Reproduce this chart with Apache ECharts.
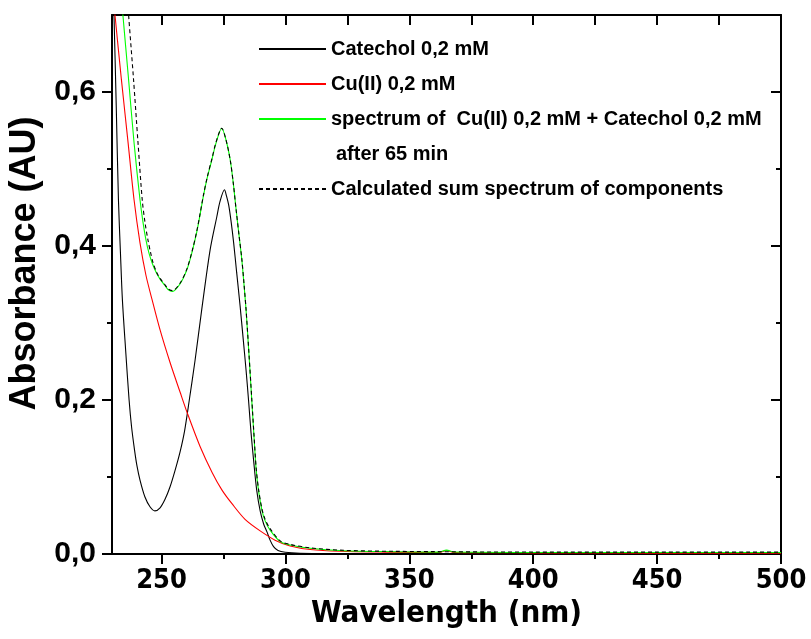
<!DOCTYPE html>
<html lang="en">
<head>
  <meta charset="UTF-8">
  <title>Catechol / Cu(II) absorbance spectra</title>
  <script src="https://cdn.jsdelivr.net/npm/echarts@6/dist/echarts.min.js"></script>
  <style>
    html, body { margin: 0; padding: 0; background: #fff; }
    #chart { width: 811px; height: 639px; }
  </style>
</head>
<body>
<div id="chart"></div>
<script>
// tick positions
const wavelengthTicks = [250, 300, 350, 400, 450, 500];
const wavelengthMinorTicks = [275, 325, 375, 425, 475];
const wavelengthTopTicks = [250, 275, 300, 325, 350, 375, 400, 425, 450, 475, 500];
const absorbanceTicks = [0, 0.2, 0.4, 0.6];
const absorbanceMinorTicks = [0.1, 0.3, 0.5];

// series names
const catecholName = 'Catechol 0,2 mM';
const copperName = 'Cu(II) 0,2 mM';
const mixName = 'spectrum of  Cu(II) 0,2 mM + Catechol 0,2 mM';
const sumName = 'Calculated sum spectrum of components';

// Catechol 0,2 mM (black)
const catecholX = [230.0, 230.8, 231.7, 232.6, 233.4, 234.2, 235.5, 236.9, 237.9, 239.1, 240.1, 241.3, 243.3, 245.4, 247.3,
  249.4, 251.4, 253.4, 255.4, 257.5, 259.3, 261.2, 263.5, 266.2, 269.6, 272.3, 273.6, 275.4,
  276.2, 277.1, 278.1, 279.1, 280.3, 281.7, 282.9, 284.1, 285.1, 286.1, 287.2, 288.4, 289.8, 291.2, 292.5, 293.8, 295.2, 297.0, 299.9, 305.9, 320, 360, 400, 450, 500];
const catecholY = [0.790, 0.700, 0.583, 0.460, 0.392, 0.330, 0.265, 0.200, 0.165, 0.135, 0.114, 0.096, 0.074, 0.061, 0.056,
  0.060, 0.071, 0.087, 0.108, 0.133, 0.160, 0.200, 0.251, 0.317, 0.395, 0.438, 0.458, 0.473,
  0.465, 0.453, 0.431, 0.404, 0.366, 0.322, 0.281, 0.239, 0.200, 0.158, 0.120, 0.083, 0.056, 0.039, 0.029, 0.018, 0.0095, 0.0045, 0.0022, 0.001, 0.0006, 0.0004, 0.0003, 0.0003, 0.0003];

// Cu(II) 0,2 mM (red)
const copperX = [230.0, 231.2, 233.8, 236.5, 238.9, 241.3, 243.7, 246.2, 249.4, 253.4, 257.5, 260.4, 265.5, 270.4, 274.4, 278.5, 283.7, 289.8, 295.8, 301.9, 310.0, 322.1, 340, 362, 365, 368, 400, 450, 500];
const copperY = [0.739, 0.700, 0.616, 0.534, 0.460, 0.404, 0.362, 0.330, 0.291, 0.249, 0.210, 0.183, 0.140, 0.106, 0.083, 0.065, 0.045, 0.030, 0.018, 0.0104, 0.0058, 0.0035, 0.0025, 0.002, 0.0045, 0.002, 0.0015, 0.0012, 0.001];

// Cu(II) + Catechol after 65 min (green)
const mixX = [233.0, 234.4, 236.7, 238.9, 241.3, 242.5, 243.7, 244.9, 246.2, 247.8, 249.4, 251.3, 252.6, 254.4, 257.5, 260.2, 262.3, 264.2, 265.5, 266.9, 268.4, 270.3, 272.0, 274.3,
  276.0, 277.7, 278.9, 280.1, 281.3, 282.4, 283.3, 284.1, 285.3, 286.4, 287.4, 288.2, 289.2, 290.5, 291.8, 293.8, 297.9, 301.9, 310.0, 323.4, 343.6, 362, 365, 368, 400, 450, 500];
const mixY = [0.755, 0.700, 0.616, 0.534, 0.460, 0.431, 0.408, 0.391, 0.378, 0.366, 0.357, 0.349, 0.3435, 0.341, 0.351, 0.369, 0.392, 0.418, 0.440, 0.465, 0.488, 0.512, 0.534, 0.553,
  0.538, 0.512, 0.483, 0.447, 0.413, 0.382, 0.349, 0.317, 0.258, 0.200, 0.148, 0.109, 0.081, 0.057, 0.043, 0.031, 0.016, 0.0117, 0.0074, 0.0043, 0.003, 0.0025, 0.005, 0.0025, 0.002, 0.002, 0.002];

// calculated sum spectrum (black dashed)
const sumX = [235.5, 236.7, 238.7, 240.5, 242.2, 243.3, 244.5, 245.6, 246.6, 248.0, 249.4, 251.3, 252.6, 254.4, 257.5, 260.2, 262.3, 264.2, 265.5, 266.9, 268.4, 270.3, 272.0, 274.3,
  276.0, 277.7, 278.9, 280.1, 281.3, 282.4, 283.3, 284.1, 285.3, 286.4, 287.4, 288.2, 289.2, 290.5, 291.8, 293.8, 297.9, 301.9, 310.0, 323.4, 343.6, 400, 450, 500];
const sumY = [0.754, 0.700, 0.616, 0.534, 0.460, 0.431, 0.408, 0.391, 0.378, 0.366, 0.358, 0.350, 0.3445, 0.342, 0.352, 0.370, 0.393, 0.419, 0.441, 0.466, 0.489, 0.513, 0.535, 0.553,
  0.538, 0.512, 0.483, 0.447, 0.413, 0.383, 0.350, 0.318, 0.259, 0.202, 0.150, 0.111, 0.083, 0.059, 0.045, 0.033, 0.017, 0.0125, 0.008, 0.0048, 0.0035, 0.0025, 0.0025, 0.0025];

const zip = (xs, ys) => xs.map((x, i) => [x, ys[i]]);
const commaLabel = v => v.toFixed(1).replace('.', ',');

const chart = echarts.init(document.getElementById('chart'));

const tickStyle = { color: '#000', width: 2 };
const sansBold = { fontFamily: '"Liberation Sans", Arial, sans-serif', fontWeight: 'bold', color: '#000' };
const narrowBold = { fontFamily: '"Liberation Sans Narrow", "Arial Narrow", "DejaVu Sans Condensed", sans-serif', fontWeight: 'bold', color: '#000' };

function lineSeries(name, data, color, dashed) {
  return {
    name: name,
    type: 'line',
    data: data,
    xAxisIndex: 0,
    yAxisIndex: 0,
    showSymbol: false,
    symbol: 'none',
    smooth: 0.3,
    clip: true,
    lineStyle: { color: color, width: 1.1, type: dashed ? [4, 3] : 'solid' },
    itemStyle: { color: color }
  };
}

const legendBase = {
  orient: 'vertical',
  left: 253,
  itemWidth: 67,
  itemHeight: 14,
  itemGap: 15,
  itemStyle: { opacity: 0 },
  textStyle: Object.assign({ fontSize: 20, lineHeight: 20 }, sansBold)
};

const option = {
  animation: false,
  backgroundColor: '#fff',
  grid: { left: 112, right: 30, top: 15, bottom: 85, outerBoundsMode: 'none', containLabel: false },
  legend: [
    Object.assign({ data: [catecholName, copperName, mixName], top: 34 }, legendBase),
    Object.assign({ data: [sumName], top: 174 }, legendBase)
  ],
  graphic: [
    {
      type: 'text',
      left: 336,
      top: 144,
      style: { text: 'after 65 min', fontSize: 20, fontWeight: 'bold', fontFamily: '"Liberation Sans", Arial, sans-serif', fill: '#000' }
    }
  ],
  xAxis: [
    {
      type: 'value', position: 'bottom', min: 230, max: 500,
      name: 'Wavelength (nm)', nameLocation: 'middle', nameGap: 44,
      nameTextStyle: Object.assign({ fontSize: 31 }, narrowBold),
      axisLine: { onZero: false, lineStyle: tickStyle },
      axisTick: { inside: false, length: 10, lineStyle: tickStyle, customValues: wavelengthTicks },
      axisLabel: Object.assign({ fontSize: 27, margin: 13, customValues: wavelengthTicks }, narrowBold),
      splitLine: { show: false }
    },
    {
      type: 'value', position: 'bottom', min: 230, max: 500,
      axisLine: { show: false, onZero: false },
      axisTick: { inside: false, length: 5, lineStyle: tickStyle, customValues: wavelengthMinorTicks },
      axisLabel: { show: false },
      splitLine: { show: false }
    },
    {
      type: 'value', position: 'top', min: 230, max: 500,
      axisLine: { onZero: false, lineStyle: tickStyle },
      axisTick: { inside: true, length: 10, lineStyle: tickStyle, customValues: wavelengthTopTicks },
      axisLabel: { show: false },
      splitLine: { show: false }
    }
  ],
  yAxis: [
    {
      type: 'value', position: 'left', min: 0, max: 0.7,
      name: 'Absorbance (AU)', nameLocation: 'middle', nameGap: 64, nameRotate: 90,
      nameTextStyle: Object.assign({ fontSize: 36, padding: [0, 0, 0, 42] }, sansBold),
      axisLine: { onZero: false, lineStyle: tickStyle },
      axisTick: { inside: false, length: 10, lineStyle: tickStyle, customValues: absorbanceTicks },
      axisLabel: Object.assign({ fontSize: 30, margin: 16, customValues: absorbanceTicks, formatter: commaLabel }, sansBold),
      splitLine: { show: false }
    },
    {
      type: 'value', position: 'left', min: 0, max: 0.7,
      axisLine: { show: false, onZero: false },
      axisTick: { inside: false, length: 5, lineStyle: tickStyle, customValues: absorbanceMinorTicks },
      axisLabel: { show: false },
      splitLine: { show: false }
    },
    {
      type: 'value', position: 'right', min: 0, max: 0.7,
      axisLine: { onZero: false, lineStyle: tickStyle },
      axisTick: { inside: true, length: 10, lineStyle: tickStyle, customValues: absorbanceTicks },
      axisLabel: { show: false },
      splitLine: { show: false }
    },
    {
      type: 'value', position: 'right', min: 0, max: 0.7,
      axisLine: { show: false, onZero: false },
      axisTick: { inside: true, length: 5, lineStyle: tickStyle, customValues: absorbanceMinorTicks },
      axisLabel: { show: false },
      splitLine: { show: false }
    }
  ],
  series: [
    lineSeries(catecholName, zip(catecholX, catecholY), '#000000', false),
    lineSeries(copperName, zip(copperX, copperY), '#ff0000', false),
    lineSeries(mixName, zip(mixX, mixY), '#00ff00', false),
    lineSeries(sumName, zip(sumX, sumY), '#000000', true)
  ]
};

chart.setOption(option);
</script>
</body>
</html>
